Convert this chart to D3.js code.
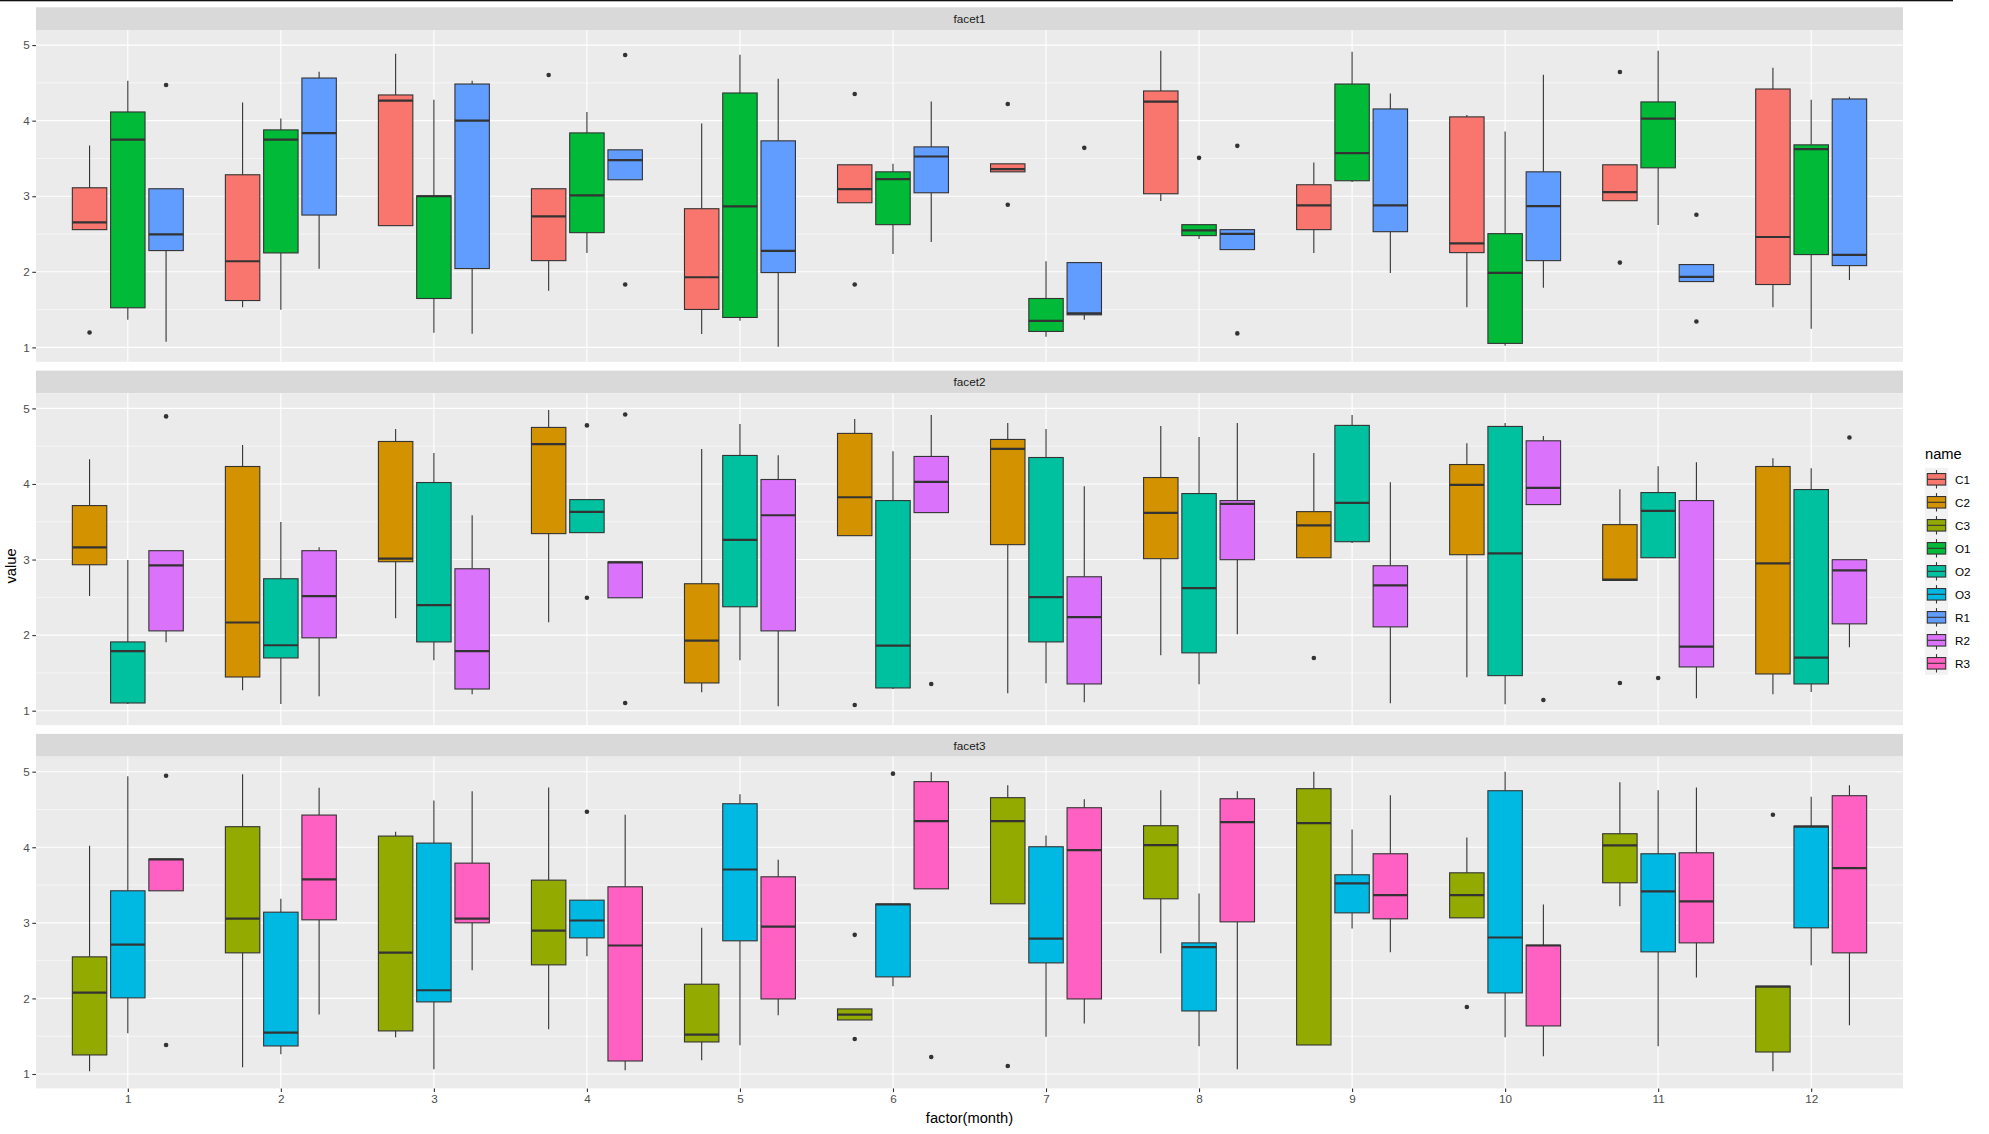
<!DOCTYPE html>
<html><head><meta charset="utf-8">
<script src="https://cdn.jsdelivr.net/npm/d3@7"></script>
<style>
body{margin:0;background:#fff;}
svg text{font-family:"Liberation Sans",Arial,Helvetica,sans-serif;}
</style>
</head><body>
<svg id="chart" width="1989" height="1134"></svg>
<script>
// ---------------- DATA ----------------
const months = [1,2,3,4,5,6,7,8,9,10,11,12];
const seriesNames = ["C1","C2","C3","O1","O2","O3","R1","R2","R3"];
const seriesColors = ["#F8766D","#D39200","#93AA00","#00BA38","#00C19F","#00B9E3","#619CFF","#DB72FB","#FF61C3"];
const facetNames = ["facet1","facet2","facet3"];
const facetSeries = [["C1","O1","R1"],["C2","O2","R2"],["C3","O3","R3"]];
const yTicks = [1,2,3,4,5];
const yMinorTicks = [1.5,2.5,3.5,4.5];
// each month: [lower whisker, Q1, median, Q3, upper whisker, [outliers]]
const C1 = [[2.558,2.558,2.655,3.112,3.671,[1.198]],[1.532,1.620,2.140,3.284,4.239,[]],[2.611,2.611,4.265,4.340,4.886,[]],[1.748,2.148,2.734,3.099,3.099,[4.604]],[1.176,1.502,1.928,2.835,3.961,[]],[2.914,2.914,3.095,3.416,3.416,[4.353,1.832]],[3.323,3.323,3.359,3.429,3.429,[4.221,2.888]],[2.936,3.033,4.252,4.393,4.925,[]],[2.250,2.558,2.879,3.152,3.447,[]],[1.532,2.254,2.377,4.050,4.076,[]],[2.941,2.941,3.055,3.416,3.416,[4.644,2.122]],[1.532,1.832,2.461,4.419,4.701,[]]];
const O1 = [[1.365,1.524,3.750,4.115,4.529,[]],[1.497,2.250,3.750,3.878,4.027,[]],[1.194,1.647,3.000,3.005,4.278,[]],[2.250,2.518,3.011,3.838,4.115,[]],[1.352,1.396,2.866,4.366,4.872,[]],[2.237,2.624,3.227,3.323,3.429,[]],[1.141,1.211,1.352,1.647,2.140,[]],[2.435,2.479,2.549,2.624,2.624,[3.508]],[3.187,3.205,3.570,4.485,4.912,[]],[1.022,1.053,1.986,2.505,3.856,[]],[2.619,3.376,4.027,4.248,4.925,[]],[1.246,2.228,3.623,3.680,4.278,[]]];
const R1 = [[1.075,2.281,2.496,3.099,3.099,[4.472]],[2.039,2.751,3.834,4.564,4.648,[]],[1.180,2.043,4.001,4.485,4.529,[]],[3.218,3.218,3.477,3.614,3.614,[4.868,1.832]],[1.009,1.990,2.276,3.733,4.556,[]],[2.395,3.046,3.526,3.653,4.252,[]],[1.365,1.431,1.449,2.122,2.122,[3.640]],[2.294,2.294,2.501,2.558,2.558,[3.667,1.185]],[1.986,2.531,2.879,4.155,4.358,[]],[1.788,2.148,2.870,3.323,4.608,[]],[1.871,1.871,1.933,2.096,2.096,[2.756,1.343]],[1.893,2.082,2.223,4.287,4.318,[]]];
const C2 = [[2.516,2.931,3.161,3.714,4.328,[]],[1.270,1.446,2.167,4.231,4.514,[]],[2.224,2.971,3.011,4.562,4.726,[]],[2.171,3.343,4.527,4.748,4.978,[]],[1.243,1.367,1.928,2.680,4.461,[]],[3.316,3.316,3.824,4.669,4.859,[1.075]],[1.230,3.197,4.465,4.589,4.806,[]],[1.734,3.011,3.617,4.085,4.766,[]],[3.024,3.024,3.453,3.634,4.408,[1.698]],[1.442,3.064,3.988,4.257,4.540,[]],[2.724,2.724,2.733,3.462,3.930,[1.367]],[1.217,1.486,2.949,4.231,4.341,[]]];
const O2 = [[1.088,1.102,1.787,1.910,2.993,[]],[1.088,1.698,1.866,2.746,3.497,[]],[1.667,1.910,2.397,4.019,4.408,[]],[3.356,3.356,3.630,3.793,3.793,[4.775,2.494]],[1.667,2.375,3.259,4.377,4.792,[]],[1.287,1.301,1.862,3.780,4.434,[]],[1.362,1.910,2.503,4.350,4.726,[]],[1.349,1.765,2.622,3.873,4.620,[]],[3.219,3.236,3.749,4.775,4.912,[]],[1.084,1.464,3.082,4.761,4.806,[]],[3.024,3.024,3.643,3.886,4.235,[1.433]],[1.248,1.354,1.703,3.926,4.209,[]]];
const R2 = [[1.906,2.056,2.923,3.117,3.117,[4.894]],[1.190,1.964,2.516,3.117,3.161,[]],[1.217,1.287,1.787,2.878,3.586,[]],[2.494,2.494,2.963,2.967,2.967,[4.920,1.102]],[1.058,2.056,3.586,4.059,4.381,[]],[3.621,3.621,4.028,4.364,4.912,[1.354]],[1.111,1.354,2.238,2.772,3.970,[]],[2.012,2.998,3.736,3.780,4.806,[]],[1.097,2.109,2.657,2.918,4.023,[]],[3.727,3.727,3.948,4.571,4.633,[1.141]],[1.164,1.579,1.849,3.780,4.288,[]],[1.840,2.149,2.856,2.998,2.998,[4.615]]];
const C3 = [[1.035,1.252,2.077,2.550,4.020,[]],[1.088,2.603,3.057,4.272,4.965,[]],[1.486,1.570,2.607,4.148,4.205,[]],[1.592,2.444,2.898,3.565,4.792,[]],[1.181,1.424,1.521,2.188,2.934,[]],[1.715,1.715,1.786,1.861,1.861,[2.841,1.464]],[3.252,3.252,4.347,4.656,4.819,[1.106]],[2.598,3.318,4.029,4.285,4.753,[]],[1.384,1.384,4.320,4.775,5.000,[]],[3.066,3.066,3.366,3.662,4.130,[1.887]],[3.221,3.530,4.024,4.179,4.859,[]],[1.035,1.291,2.157,2.161,2.161,[4.430]]];
const O3 = [[1.539,2.007,2.713,3.424,4.938,[]],[1.260,1.371,1.547,3.141,3.318,[]],[1.062,1.954,2.108,4.055,4.620,[]],[2.558,2.801,3.031,3.300,3.300,[4.470]],[1.380,2.762,3.706,4.576,4.700,[]],[2.161,2.285,3.243,3.247,3.247,[4.974]],[1.494,2.470,2.792,4.007,4.157,[]],[1.366,1.834,2.678,2.735,3.389,[]],[2.925,3.132,3.521,3.636,4.236,[]],[1.486,2.073,2.806,4.748,5.000,[]],[1.366,2.616,3.415,3.914,4.753,[]],[2.439,2.934,4.272,4.280,4.669,[]]];
const R3 = [[3.424,3.424,3.839,3.843,3.843,[4.947,1.384]],[1.786,3.040,3.574,4.426,4.788,[]],[2.373,3.000,3.057,3.790,4.740,[]],[1.049,1.172,2.700,3.477,4.430,[]],[1.777,1.993,2.951,3.609,3.834,[]],[3.450,3.450,4.347,4.868,4.991,[1.225]],[1.667,1.993,3.962,4.523,4.634,[]],[1.062,3.013,4.333,4.642,4.740,[]],[2.611,3.053,3.366,3.914,4.687,[]],[1.234,1.636,2.700,2.704,3.243,[]],[2.276,2.735,3.283,3.927,4.792,[]],[1.645,2.603,3.724,4.682,4.819,[]]];

const seriesData = {C1,C2,C3,O1,O2,O3,R1,R2,R3};

// ---------------- LAYOUT ----------------
const svg = d3.select("#chart");
const W = 1989, H = 1134;
const panelLeft = 36, panelRight = 1903;
const firstStripTop = 7.3, stripH = 22.7, panelH = 331.8, facetGap = 8.8;
const ink = "#333333";

svg.append("rect").attr("x",0).attr("y",0).attr("width",W).attr("height",H).attr("fill","#fff");
svg.append("rect").attr("x",0).attr("y",0).attr("width",1953).attr("height",1.3).attr("fill","#111");

const colorScale = d3.scaleOrdinal().domain(seriesNames).range(seriesColors);

const x = d3.scalePoint().domain(months).range([panelLeft, panelRight]).padding(0.6);
const step = x.step();
const dodge = d3.scaleBand().domain([0,1,2])
  .range([-0.375*step, 0.375*step]).paddingInner(0.1).paddingOuter(0.05);

// y-domain: data range expanded by 5%
let allVals = [];
seriesNames.forEach(s => seriesData[s].forEach(d => { allVals.push(d[0], d[4], ...d[5]); }));
const dMin = d3.min(allVals), dMax = d3.max(allVals);
const pad = 0.05*(dMax-dMin);

facetNames.forEach((fname, fi) => {
  const stripTop = firstStripTop + fi*(stripH + panelH + facetGap);
  const pTop = stripTop + stripH;
  const pBot = pTop + panelH;
  const y = d3.scaleLinear().domain([dMin-pad, dMax+pad]).range([pBot, pTop]);
  const g = svg.append("g");

  // strip
  g.append("rect").attr("x",panelLeft).attr("y",stripTop).attr("width",panelRight-panelLeft).attr("height",stripH).attr("fill","#D9D9D9");
  g.append("text").attr("x",(panelLeft+panelRight)/2).attr("y",stripTop+stripH/2)
    .attr("text-anchor","middle").attr("dominant-baseline","central")
    .attr("font-size","11.7px").attr("fill","#1A1A1A").text(fname);

  // panel background
  g.append("rect").attr("x",panelLeft).attr("y",pTop).attr("width",panelRight-panelLeft).attr("height",panelH).attr("fill","#EBEBEB");
  // grids
  g.selectAll(".ymin").data(yMinorTicks).join("line")
    .attr("x1",panelLeft).attr("x2",panelRight).attr("y1",d=>y(d)).attr("y2",d=>y(d))
    .attr("stroke","#fff").attr("stroke-width",0.55);
  g.selectAll(".ymaj").data(yTicks).join("line")
    .attr("x1",panelLeft).attr("x2",panelRight).attr("y1",d=>y(d)).attr("y2",d=>y(d))
    .attr("stroke","#fff").attr("stroke-width",1.1);
  g.selectAll(".xmaj").data(months).join("line")
    .attr("x1",d=>x(d)).attr("x2",d=>x(d)).attr("y1",pTop).attr("y2",pBot)
    .attr("stroke","#fff").attr("stroke-width",1.1);

  // y axis
  const yAxis = d3.axisLeft(y).tickValues(yTicks).tickSize(3.7).tickPadding(2.5).tickFormat(d3.format("d"));
  const ya = g.append("g").attr("transform",`translate(${panelLeft},0)`).call(yAxis);
  ya.select(".domain").remove();
  ya.selectAll(".tick line").attr("stroke",ink).attr("stroke-width",1.1);
  ya.selectAll(".tick text").attr("fill","#4D4D4D").attr("font-size","11.7px")
    .attr("font-family","'Liberation Sans',Arial,sans-serif");

  // boxes
  facetSeries[fi].forEach((sname, si) => {
    const col = colorScale(sname);
    const bw = dodge.bandwidth();
    seriesData[sname].forEach((d, mi) => {
      const cx = x(months[mi]) + dodge(si) + bw/2;
      const bg = g.append("g");
      // outliers
      bg.selectAll("circle").data(d[5]).join("circle")
        .attr("cx",cx).attr("cy",v=>y(v)).attr("r",2.3).attr("fill",ink);
      // whiskers
      bg.append("line").attr("x1",cx).attr("x2",cx).attr("y1",y(d[4])).attr("y2",y(d[3]))
        .attr("stroke",ink).attr("stroke-width",1.1);
      bg.append("line").attr("x1",cx).attr("x2",cx).attr("y1",y(d[1])).attr("y2",y(d[0]))
        .attr("stroke",ink).attr("stroke-width",1.1);
      // box
      bg.append("rect").attr("x",cx-bw/2).attr("y",y(d[3])).attr("width",bw)
        .attr("height",Math.max(0.01, y(d[1])-y(d[3])))
        .attr("fill",col).attr("stroke",ink).attr("stroke-width",1.1);
      // median
      bg.append("line").attr("x1",cx-bw/2).attr("x2",cx+bw/2).attr("y1",y(d[2])).attr("y2",y(d[2]))
        .attr("stroke",ink).attr("stroke-width",2.2);
    });
  });

  // x axis on last facet only
  if (fi === facetNames.length-1) {
    const xAxis = d3.axisBottom(x).tickSize(3.7).tickPadding(2.5);
    const xa = g.append("g").attr("transform",`translate(0,${pBot})`).call(xAxis);
    xa.select(".domain").remove();
    xa.selectAll(".tick line").attr("stroke",ink).attr("stroke-width",1.1);
    xa.selectAll(".tick text").attr("fill","#4D4D4D").attr("font-size","11.7px")
      .attr("font-family","'Liberation Sans',Arial,sans-serif");
  }
});

// axis titles
svg.append("text").attr("x",(panelLeft+panelRight)/2).attr("y",1118)
  .attr("text-anchor","middle").attr("dominant-baseline","central")
  .attr("font-size","14.7px").attr("fill","#000").text("factor(month)");
svg.append("text").attr("transform","translate(11,566) rotate(-90)")
  .attr("text-anchor","middle").attr("dominant-baseline","central")
  .attr("font-size","14.7px").attr("fill","#000").text("value");

// legend
const lgX = 1925, lgKeyTop = 467.8, keyS = 23;
const lg = svg.append("g");
lg.append("text").attr("x",lgX).attr("y",454.3).attr("dominant-baseline","central")
  .attr("font-size","14.7px").attr("fill","#000").text("name");
seriesNames.forEach((s, i) => {
  const ky = lgKeyTop + i*keyS;
  lg.append("rect").attr("x",lgX).attr("y",ky).attr("width",keyS).attr("height",keyS).attr("fill","#F2F2F2");
  const kcx = lgX + keyS/2;
  lg.append("line").attr("x1",kcx).attr("x2",kcx).attr("y1",ky+0.1*keyS).attr("y2",ky+0.25*keyS).attr("stroke",ink).attr("stroke-width",1.1);
  lg.append("line").attr("x1",kcx).attr("x2",kcx).attr("y1",ky+0.75*keyS).attr("y2",ky+0.9*keyS).attr("stroke",ink).attr("stroke-width",1.1);
  lg.append("rect").attr("x",lgX+0.1*keyS).attr("y",ky+0.25*keyS).attr("width",0.8*keyS).attr("height",0.5*keyS)
    .attr("fill",colorScale(s)).attr("stroke",ink).attr("stroke-width",1.1);
  lg.append("line").attr("x1",lgX+0.1*keyS).attr("x2",lgX+0.9*keyS).attr("y1",ky+0.5*keyS).attr("y2",ky+0.5*keyS).attr("stroke",ink).attr("stroke-width",1.1);
  lg.append("text").attr("x",lgX+keyS+7).attr("y",ky+keyS/2).attr("dominant-baseline","central")
    .attr("font-size","11.7px").attr("fill","#000").text(s);
});
</script>
</body></html>
